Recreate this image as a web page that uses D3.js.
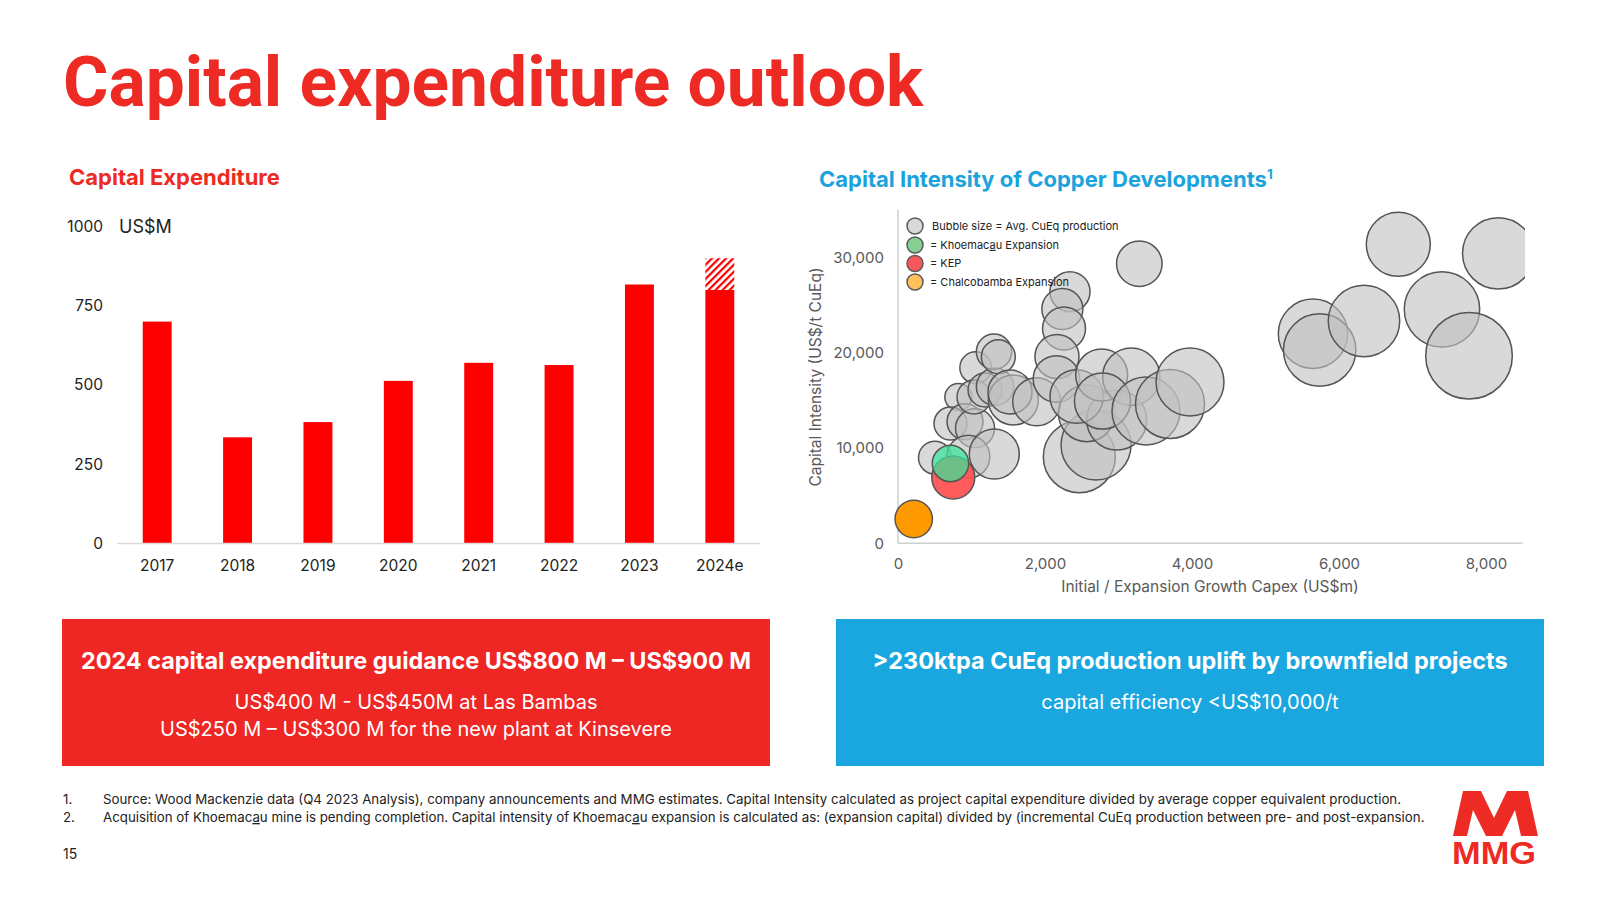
<!DOCTYPE html>
<html><head><meta charset="utf-8">
<script src="https://cdn.jsdelivr.net/npm/d3@7"></script>
<style>
html,body{margin:0;padding:0;background:#fff;}
svg{display:block;}
text{font-family:Inter,"Noto Sans",sans-serif;}
</style></head>
<body>
<svg id="chart" width="1600" height="900"></svg>
<script>
// ---------- DATA ----------
const years = ["2017","2018","2019","2020","2021","2022","2023","2024e"];
const capex = [700, 335, 383, 513, 570, 563, 817, 800];
const capexGuidanceTop = [null, null, null, null, null, null, null, 900];
const barTicks = [0, 250, 500, 750, 1000];

// bubble chart: initial / expansion capex (US$m), capital intensity (US$/t CuEq), avg CuEq production (ktpa, relative)
const bubbleCapex = [503, 821, 714, 912, 1048, 957, 1310, 1057, 1034, 1184, 1320, 1306, 1365, 1569, 1524, 1887,
  2340, 2236, 2259, 2163, 2156, 2467, 2694, 2568, 2976, 2431, 2771, 3174, 2782, 3374, 3701, 3973, 3283,
  5646, 5737, 6340, 6807, 7401, 7769, 8167, 752, 714, 214];
const bubbleIntensity = [8980, 15350, 12570, 12760, 12070, 9090, 9370, 18430, 15350, 16090, 16430, 20100, 19580, 15040, 15880, 14860,
  26400, 24585, 22540, 19600, 17240, 9090, 10310, 13640, 12940, 15400, 17660, 17480, 14930, 13880, 14620, 16926, 29340,
  21994, 20283, 23326, 31375, 24554, 19685, 30430, 6905, 8374, 2550];
const bubbleProduction = [67, 45, 67, 80, 94, 114, 154, 62, 71, 71, 86, 77, 71, 154, 120, 142,
  99, 104, 114, 120, 134, 320, 302, 198, 222, 176, 167, 203, 194, 285, 294, 285, 128,
  297, 324, 315, 253, 351, 463, 315, 114, 82, 86];
const bubbleGroup = Array(40).fill("Other").concat(["KEP", "Khoemacau Expansion", "Chalcobamba Expansion"]);
const bubbleXTicks = [0, 2000, 4000, 6000, 8000];
const bubbleYTicks = [0, 10000, 20000, 30000];
const legendItems = ["Bubble size = Avg. CuEq production", "Khoemacau Expansion", "KEP", "Chalcobamba Expansion"];

// ---------- STYLE ----------
const RED = "#ee2a24", BLUE = "#1ba3dd", BAR = "#ff0000";
const groupFill = {"Other": "rgb(192,192,192)", "KEP": "#ff4f4f", "Khoemacau Expansion": "#35e699", "Chalcobamba Expansion": "#ff9900"};
const groupOpacity = {"Other": 0.6, "KEP": 0.92, "Khoemacau Expansion": 0.72, "Chalcobamba Expansion": 1};
const legendFill = ["#d9d9d9", "#85d193", "#f9585a", "#fec15c"];

const svg = d3.select("#chart");
svg.append("rect").attr("width", 1600).attr("height", 900).attr("fill", "#fff");

// Title
svg.append("text").attr("x", 63).attr("y", 106).attr("fill", RED)
  .style("font-family", "Roboto, 'Liberation Sans', sans-serif").style("font-weight", 700).style("font-size", "69.5px")
  .text("Capital expenditure outlook");

// Section titles
svg.append("text").attr("x", 69).attr("y", 185).attr("fill", RED)
  .style("font-family", "Inter, sans-serif").style("font-weight", 700).style("font-size", "22px")
  .text("Capital Expenditure");
const st2 = svg.append("text").attr("x", 819).attr("y", 187).attr("fill", BLUE)
  .style("font-family", "Inter, sans-serif").style("font-weight", 700).style("font-size", "22px");
st2.append("tspan").text("Capital Intensity of Copper Developments");
st2.append("tspan").attr("dy", -8).style("font-size", "13.5px").text("1");

// ---------- BAR CHART ----------
const yBar = d3.scaleLinear().domain([0, 1000]).range([543.5, 226.5]);
const xBar = d3.scaleBand().domain(years).range([117, 760]).paddingInner(0.64).paddingOuter(0.32);

const defs = svg.append("defs");
const pat = defs.append("pattern").attr("id", "hatch").attr("patternUnits", "userSpaceOnUse")
  .attr("width", 5).attr("height", 5).attr("patternTransform", "rotate(45)");
pat.append("rect").attr("width", 5).attr("height", 5).attr("fill", "#fff");
pat.append("line").attr("x1", 1).attr("y1", 0).attr("x2", 1).attr("y2", 5).attr("stroke", BAR).attr("stroke-width", 2.4);

const barG = svg.append("g");
barG.selectAll("rect.bar").data(years).join("rect").attr("class", "bar")
  .attr("x", d => xBar(d)).attr("width", xBar.bandwidth())
  .attr("y", (d, i) => yBar(capex[i])).attr("height", (d, i) => yBar(0) - yBar(capex[i]))
  .attr("fill", BAR);
barG.selectAll("rect.hatch").data(years.filter((d, i) => capexGuidanceTop[i] != null)).join("rect").attr("class", "hatch")
  .attr("x", d => xBar(d)).attr("width", xBar.bandwidth())
  .attr("y", d => yBar(capexGuidanceTop[years.indexOf(d)]))
  .attr("height", d => yBar(capex[years.indexOf(d)]) - yBar(capexGuidanceTop[years.indexOf(d)]))
  .attr("fill", "url(#hatch)");

barG.append("line").attr("x1", 117).attr("x2", 760).attr("y1", yBar(0)).attr("y2", yBar(0))
  .attr("stroke", "#d9d9d9").attr("stroke-width", 1.5);

const yAxBar = barG.append("g").attr("transform", "translate(110,0)")
  .call(d3.axisLeft(yBar).tickValues(barTicks).tickSize(0).tickPadding(7).tickFormat(d3.format("d")));
yAxBar.select(".domain").remove();
yAxBar.selectAll("text").style("font-family", "Inter, sans-serif").style("font-size", "15.5px").attr("fill", "#222");

const xAxBar = barG.append("g").attr("transform", `translate(0,${yBar(0)})`)
  .call(d3.axisBottom(xBar).tickSize(0).tickPadding(16));
xAxBar.select(".domain").remove();
xAxBar.selectAll("text").style("font-family", "Inter, sans-serif").style("font-size", "15.5px").attr("fill", "#222");

barG.append("text").attr("x", 119).attr("y", yBar(1000)).attr("dy", "0.35em").attr("fill", "#222")
  .style("font-size", "18px").text("US$M");

// ---------- BUBBLE CHART ----------
const xB = d3.scaleLinear().domain([0, 8500]).range([898, 1522.75]);
const yB = d3.scaleLinear().domain([0, 35000]).range([543.3, 209.8]);
const rB = d3.scaleSqrt().domain([0, 500]).range([0, 45]);

const bg = svg.append("g");
bg.append("line").attr("x1", xB(0)).attr("x2", xB(0)).attr("y1", yB(35000)).attr("y2", yB(0))
  .attr("stroke", "#cfcfcf").attr("stroke-width", 1.5);
bg.append("line").attr("x1", xB(0)).attr("x2", xB(8500)).attr("y1", yB(0)).attr("y2", yB(0))
  .attr("stroke", "#cfcfcf").attr("stroke-width", 1.5);

const yAxB = bg.append("g").attr("transform", `translate(${xB(0)},0)`)
  .call(d3.axisLeft(yB).tickValues(bubbleYTicks).tickSize(0).tickPadding(14).tickFormat(d3.format(",")));
yAxB.select(".domain").remove();
yAxB.selectAll("text").style("font-family", "Inter, sans-serif").style("font-size", "15px").attr("fill", "#595959");

const xAxB = bg.append("g").attr("transform", `translate(0,${yB(0)})`)
  .call(d3.axisBottom(xB).tickValues(bubbleXTicks).tickSize(0).tickPadding(15).tickFormat(d3.format(",")));
xAxB.select(".domain").remove();
xAxB.selectAll("text").style("font-family", "Inter, sans-serif").style("font-size", "15px").attr("fill", "#595959");

bg.append("text").attr("transform", "translate(816,377) rotate(-90)").attr("text-anchor", "middle")
  .attr("dy", "0.35em").attr("fill", "#595959").style("font-size", "15.5px")
  .text("Capital Intensity (US$/t CuEq)");
bg.append("text").attr("x", 1210).attr("y", 587).attr("text-anchor", "middle").attr("dy", "0.35em")
  .attr("fill", "#595959").style("font-size", "15.5px").text("Initial / Expansion Growth Capex (US$m)");

defs.append("clipPath").attr("id", "plotclip").append("rect")
  .attr("x", 870).attr("y", 190).attr("width", 1525 - 870).attr("height", 370);

const bubbles = bubbleCapex.map((c, i) => ({x: c, y: bubbleIntensity[i], p: bubbleProduction[i], g: bubbleGroup[i]}));
bg.append("g").attr("clip-path", "url(#plotclip)")
  .selectAll("circle").data(bubbles).join("circle")
  .attr("cx", d => xB(d.x)).attr("cy", d => yB(d.y)).attr("r", d => rB(d.p))
  .attr("fill", d => groupFill[d.g]).attr("fill-opacity", d => groupOpacity[d.g])
  .attr("stroke", "#555").attr("stroke-width", 1.5);

// legend
const lg = bg.append("g");
const legY = [226, 245, 263.5, 282];
legendItems.forEach((t, i) => {
  lg.append("circle").attr("cx", 915).attr("cy", legY[i]).attr("r", 8)
    .attr("fill", legendFill[i]).attr("stroke", "#595959").attr("stroke-width", 1.5);
  const tx = lg.append("text").attr("x", i === 0 ? 932 : 930).attr("y", legY[i]).attr("dy", "0.35em")
    .attr("fill", "#222").style("font-size", "11px");
  if (i === 0) tx.text(t);
  else if (t.startsWith("Khoemacau")) {
    tx.append("tspan").text("= Khoemac");
    tx.append("tspan").style("text-decoration", "underline").text("a");
    tx.append("tspan").text("u Expansion");
  } else tx.text("= " + t);
});

// ---------- TEXT BOXES ----------
svg.append("rect").attr("x", 62).attr("y", 619).attr("width", 708).attr("height", 147).attr("fill", "#ee2624");
svg.append("rect").attr("x", 836).attr("y", 619).attr("width", 708).attr("height", 147).attr("fill", "#1aa7df");

function ctext(x, y, txt, size, weight) {
  return svg.append("text").attr("x", x).attr("y", y).attr("text-anchor", "middle").attr("fill", "#fff")
    .style("font-size", size + "px").style("font-weight", weight).text(txt);
}
ctext(416, 669, "2024 capital expenditure guidance US$800 M – US$900 M", 23.4, 700);
ctext(416, 709, "US$400 M - US$450M at Las Bambas", 20, 400);
ctext(416, 736, "US$250 M – US$300 M for the new plant at Kinsevere", 20, 400);
ctext(1190, 669, ">230ktpa CuEq production uplift by brownfield projects", 23.4, 700);
ctext(1190, 709, "capital efficiency <US$10,000/t", 20, 400);

// ---------- FOOTNOTES ----------
const fn = svg.append("g").style("font-size", "13.3px").attr("fill", "#222");
fn.append("text").attr("x", 63).attr("y", 804).text("1.");
fn.append("text").attr("x", 103).attr("y", 804)
  .text("Source: Wood Mackenzie data (Q4 2023 Analysis), company announcements and MMG estimates. Capital Intensity calculated as project capital expenditure divided by average copper equivalent production.");
fn.append("text").attr("x", 63).attr("y", 822).text("2.");
const f2 = fn.append("text").attr("x", 103).attr("y", 822);
f2.append("tspan").text("Acquisition of Khoemac");
f2.append("tspan").style("text-decoration", "underline").text("a");
f2.append("tspan").text("u mine is pending completion. Capital intensity of Khoemac");
f2.append("tspan").style("text-decoration", "underline").text("a");
f2.append("tspan").text("u expansion is calculated as: (expansion capital) divided by (incremental CuEq production between pre- and post-expansion.");
svg.append("text").attr("x", 63).attr("y", 859).attr("fill", "#222").style("font-size", "14px").text("15");

// ---------- LOGO ----------
const logo = svg.append("g").attr("fill", RED);
logo.append("path").attr("d", "M1453,836 L1463,791 L1481,791 L1494,818 L1507,791 L1525,791 L1535,836 L1521,836 L1515,810 L1502,836 L1486,836 L1473,810 L1467,836 Z");
logo.append("path").attr("d", "M1524,791 L1528,791 L1538,836 L1534,836 Z");
logo.append("text").attr("x", 1452).attr("y", 864).attr("textLength", 84).attr("lengthAdjust", "spacingAndGlyphs")
  .style("font-family", "'Liberation Sans', Arial, sans-serif").style("font-weight", 700).style("font-size", "31px").text("MMG");
</script>
</body></html>
